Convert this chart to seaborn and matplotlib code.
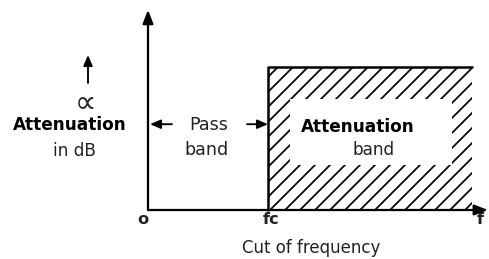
import matplotlib
matplotlib.use("Agg")
from matplotlib import pyplot as plt
from matplotlib.patches import Rectangle
import seaborn as sns

# attenuation characteristic of a high pass filter
cutoff_freq = 3.0      # fc
max_freq = 8.1         # end of drawn attenuation band
atten_level = 5.0      # attenuation in the stop band
axis_end_x = 8.5
axis_end_y = 7.0

step_x = [cutoff_freq, cutoff_freq, max_freq]
step_y = [0, atten_level, atten_level]

tick_labels = ["o", "fc", "f"]

sns.set_style("white")
plt.rcParams["font.family"] = ["DejaVu Sans"]
plt.rcParams["hatch.linewidth"] = 1.4

fig = plt.figure(figsize=(489 / 90, 259 / 90), dpi=90)
ax = fig.add_axes([0, 0, 1, 1])
ax.set_xlim(-3.7, 8.525)
ax.set_ylim(-1.713, 7.343)
ax.axis("off")

# hatched attenuation band
ax.fill_between([cutoff_freq, max_freq], 0, atten_level, facecolor="white",
                edgecolor="black", hatch="//", linewidth=0)
# white patch behind the band label
ax.add_patch(Rectangle((3.55, 1.57), 4.05, 2.3, facecolor="white", edgecolor="none", zorder=2))

sns.lineplot(x=step_x, y=step_y, sort=False, estimator=None, color="black", lw=2, ax=ax, zorder=3)

# axes with arrow heads
arrow = dict(arrowstyle="-|>,head_length=0.9,head_width=0.35", color="black", lw=1.8, shrinkA=0, shrinkB=0)
ax.annotate("", xy=(0, axis_end_y), xytext=(0, 0), arrowprops=arrow, zorder=4)
ax.annotate("", xy=(axis_end_x, 0), xytext=(0, 0), arrowprops=arrow, zorder=4)

# pass band arrows
small = dict(arrowstyle="-|>,head_length=0.7,head_width=0.3", color="black", lw=1.5, shrinkA=0, shrinkB=0)
ax.annotate("", xy=(0.05, 3.0), xytext=(0.6, 3.0), arrowprops=small)
ax.annotate("", xy=(cutoff_freq, 3.0), xytext=(2.475, 3.0), arrowprops=small, zorder=4)
ax.annotate("", xy=(-1.5, 5.42), xytext=(-1.5, 4.44), arrowprops=small)

txt = "#222222"
ax.text(-1.575, 3.72, "\u221d", fontsize=24, ha="center", va="center", color=txt)
ax.text(-1.95, 2.97, "Attenuation", fontsize=13.5, fontweight="bold", ha="center", va="center", color="black")
ax.text(-1.85, 2.06, "in dB", fontsize=13.5, ha="center", va="center", color=txt)
ax.text(1.525, 2.97, "Pass", fontsize=14, ha="center", va="center", color=txt)
ax.text(1.475, 2.10, "band", fontsize=14, ha="center", va="center", color=txt)
ax.text(5.25, 2.90, "Attenuation", fontsize=13.5, fontweight="bold", ha="center", va="center", color="black", zorder=5)
ax.text(5.65, 2.10, "band", fontsize=13.5, ha="center", va="center", color=txt, zorder=5)

for xpos, lab in zip([-0.125, cutoff_freq + 0.075, 8.3], tick_labels):
    ax.text(xpos, -0.32, lab, fontsize=13, fontweight="bold", ha="center", va="center", color=txt)
ax.text(4.075, -1.33, "Cut of frequency", fontsize=13.3, ha="center", va="center", color=txt)

fig.savefig("out.png", dpi=90, facecolor="white")
